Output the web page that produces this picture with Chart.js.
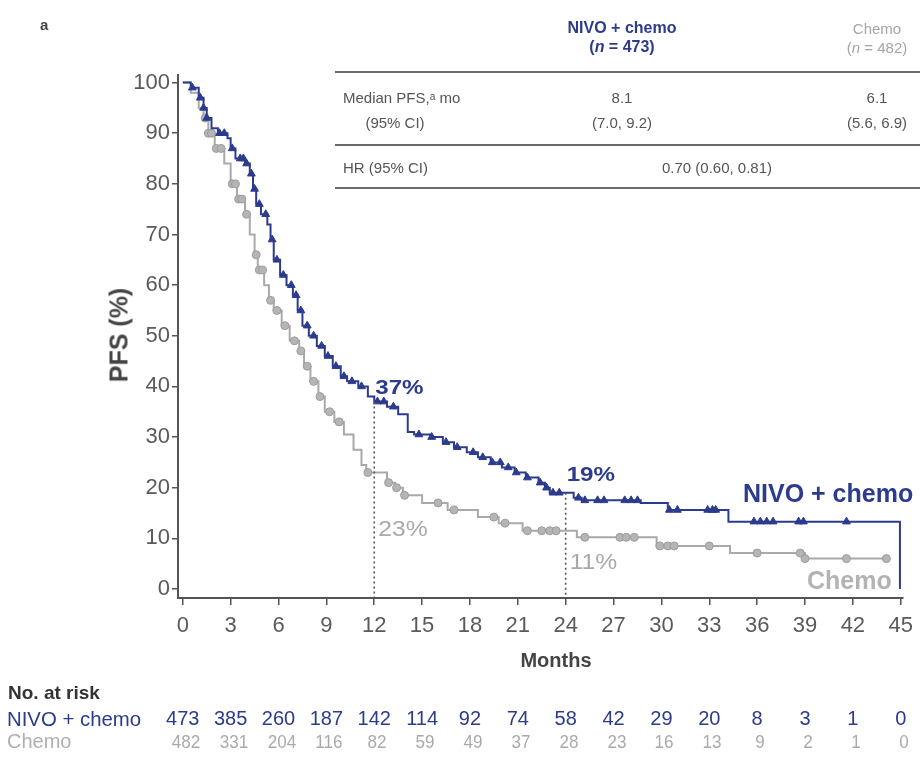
<!DOCTYPE html>
<html><head><meta charset="utf-8">
<script src="https://cdn.jsdelivr.net/npm/chart.js@4.4.1/dist/chart.umd.min.js"></script>
<style>
html,body{margin:0;padding:0;background:#fff;}
#wrap{position:relative;width:921px;height:758px;overflow:hidden;font-family:"Liberation Sans",Arial,sans-serif;}
#c{position:absolute;left:0;top:0;}
.t{position:absolute;white-space:nowrap;line-height:1;}
.hl{position:absolute;height:2px;background:#6a6a6a;left:335px;width:585px;}
</style></head><body>
<div id="wrap"><canvas id="c" width="921" height="758"></canvas></div>
<script>
// ---------- data ----------
const nivoMonths = [0,0.5,1.0,1.3,1.5,1.8,2.2,2.8,3.0,3.3,3.9,4.2,4.4,4.6,4.9,5.3,5.5,5.7,6.1,6.5,6.9,7.2,7.5,7.9,8.4,8.9,9.4,9.9,10.3,11.0,11.6,12.0,12.8,13.5,14.1,14.5,15.5,16.3,17.0,17.8,18.5,19.3,20.0,20.8,21.5,22.3,22.7,23.0,24.5,25.0,28.7,30.4,34.2,44.95];
const nivoPFS    = [100,99,97,95,93,91,90,89,87,85,84,82,79,76,74,72,69,65,62,60,58,55,52,50,48,46,44,42,41,40,38,37,36,34.5,31,30.5,30,29,28,27,26,25,24,23,22,21,20,19,18,17.5,17,15.6,13.3,0];
const chemoMonths = [0,0.5,1.0,1.3,1.6,2.0,2.6,3.0,3.4,3.9,4.2,4.5,4.7,5.1,5.4,5.7,6.2,6.7,7.3,7.6,8.0,8.5,8.9,9.5,10.1,10.7,11.2,11.5,12.8,13.3,13.8,15.0,16.6,18.5,19.8,21.3,24.7,29.7,34.3,39.0,44.3];
const chemoPFS    = [100,98,95,93,90,87,84,80,77,74,70,66,63,60,57,55,52,49,47,44,41,38,35,33,30.5,27.5,24.5,23,21,20,18.5,17,15.6,14.2,13,11.5,10.2,8.5,7.1,6.0,6.0];
const nivoCensor  = [0.6,1.1,1.3,1.5,2.3,2.6,3.1,3.6,3.8,4.0,4.3,4.5,4.8,5.2,5.6,5.9,6.3,6.8,7.1,7.4,7.8,8.2,8.7,9.1,9.6,10.1,10.6,11.2,12.2,12.6,13.2,14.8,15.6,16.5,17.2,18.2,18.8,19.4,19.9,20.4,20.9,21.6,22.4,22.8,23.2,23.6,24.8,25.2,26.0,26.4,27.7,28.1,28.5,30.5,31.0,32.9,33.2,33.4,35.8,36.2,36.6,37.0,38.6,38.9,41.6];
const chemoCensor = [1.4,1.6,1.8,2.1,2.4,3.1,3.3,3.5,3.7,4.0,4.6,4.8,5.0,5.5,5.9,6.4,7.0,7.4,7.8,8.2,8.6,9.2,9.8,11.6,12.9,13.4,13.9,16.0,17.0,19.5,20.2,21.6,22.5,23.0,23.4,25.2,27.4,27.8,28.3,29.9,30.4,30.8,33.0,36.0,38.7,39.0,41.6,44.1];
const xTicks = [0,3,6,9,12,15,18,21,24,27,30,33,36,39,42,45];
const yTicks = [0,10,20,30,40,50,60,70,80,90,100];
const landmarkMonths = [12,24];
const nivoLandmark  = ["37%","19%"];
const chemoLandmark = ["23%","11%"];
const nivoLandmarkVal  = [37,19];
const chemoLandmarkVal = [23,11];
const atRiskNivo  = [473,385,260,187,142,114,92,74,58,42,29,20,8,3,1,0];
const atRiskChemo = [482,331,204,116,82,59,49,37,28,23,16,13,9,2,1,0];
const seriesNames = ["NIVO + chemo","Chemo"];
const tableRows = [["Median PFS,\u1d43 mo","8.1","6.1"],["(95% CI)","(7.0, 9.2)","(5.6, 6.9)"],["HR (95% CI)","0.70 (0.60, 0.81)"]];
const tableHeads = [["NIVO + chemo","(<i>n</i> = 473)"],["Chemo","(<i>n</i> = 482)"]];

const BLUE = "#2c3b8d", GREY = "#a9a9a9", AXIS = "#555555";

function stepValue(months, vals, t){
  let v = vals[0];
  for (let i=0;i<months.length;i++){ if (months[i] <= t) v = vals[i]; else break; }
  return v;
}
const pts = (m, v) => m.map((x,i)=>({x:x, y:v[i]}));
const cens = (c, m, v) => c.map(t=>({x:t, y:stepValue(m,v,t)}));

function stretchText(ctx, txt, x, y, sx){
  ctx.save(); ctx.translate(x, y); ctx.scale(sx, 1); ctx.fillText(txt, 0, 0); ctx.restore();
}

const landmarkPlugin = {
  id:'landmarks',
  afterDatasetsDraw(chart){
    const {ctx, scales:{x,y}} = chart;
    ctx.save();
    ctx.strokeStyle = "#555"; ctx.lineWidth = 1.6; ctx.setLineDash([2,3]);
    landmarkMonths.forEach((m,i)=>{
      const px = x.getPixelForValue(m);
      ctx.beginPath(); ctx.moveTo(px, y.getPixelForValue(nivoLandmarkVal[i])); ctx.lineTo(px, y.bottom); ctx.stroke();
    });
    ctx.setLineDash([]);
    ctx.textBaseline = "middle"; ctx.textAlign = "left";
    landmarkMonths.forEach((m,i)=>{
      const px = x.getPixelForValue(m);
      ctx.fillStyle = BLUE; ctx.font = "bold 21px 'Liberation Sans', Arial";
      stretchText(ctx, nivoLandmark[i], px+1, y.getPixelForValue(nivoLandmarkVal[i]) - (i===0?13:18), 1.15);
      ctx.fillStyle = GREY; ctx.font = "22px 'Liberation Sans', Arial";
      stretchText(ctx, chemoLandmark[i], px+4, y.getPixelForValue(chemoLandmarkVal[i]) + (i===0?57:30), 1.12);
    });
    ctx.restore();
  }
};

const chart = new Chart(document.getElementById('c'), {
  type:'scatter',
  data:{ datasets:[
    {label:seriesNames[1], data:pts(chemoMonths,chemoPFS), showLine:true, stepped:true, borderColor:GREY, borderWidth:2, pointRadius:0, order:4},
    {label:seriesNames[1]+" censored", data:cens(chemoCensor,chemoMonths,chemoPFS), showLine:false, pointStyle:'circle', pointRadius:4, backgroundColor:"#b5b5b5", borderColor:"#9c9c9c", borderWidth:1, order:3},
    {label:seriesNames[0], data:pts(nivoMonths,nivoPFS), showLine:true, stepped:true, borderColor:BLUE, borderWidth:2, pointRadius:0, order:2},
    {label:seriesNames[0]+" censored", data:cens(nivoCensor,nivoMonths,nivoPFS), showLine:false, pointStyle:'triangle', pointRadius:4.5, backgroundColor:BLUE, borderColor:BLUE, borderWidth:1, order:1}
  ]},
  options:{
    responsive:false, animation:false, devicePixelRatio:1,
    layout:{padding:{top:75, right:14, left:0, bottom:0}},
    plugins:{legend:{display:false}, tooltip:{enabled:false}},
    scales:{
      x:{type:'linear', min:-0.3, max:45.1,
         afterBuildTicks:s=>{s.ticks = xTicks.map(v=>({value:v}));},
         afterFit:s=>{s.height = 160;},
         grid:{drawOnChartArea:false, drawTicks:true, tickLength:7, color:AXIS, lineWidth:1.5},
         border:{display:true, color:AXIS, width:2},
         ticks:{color:"#5a5a5a", font:{family:"'Liberation Sans', Arial", size:22}, padding:8, maxRotation:0, autoSkip:false}},
      y:{type:'linear', min:-1.78, max:101.5,
         afterBuildTicks:s=>{s.ticks = yTicks.map(v=>({value:v}));},
         afterFit:s=>{s.width = 178;},
         grid:{drawOnChartArea:false, drawTicks:true, tickLength:6, color:AXIS, lineWidth:1.5},
         border:{display:true, color:AXIS, width:2},
         ticks:{color:"#5a5a5a", font:{family:"'Liberation Sans', Arial", size:22}, padding:2, autoSkip:false}}
    }
  },
  plugins:[landmarkPlugin]
});

// ---------- HTML text ----------
const wrap = document.getElementById('wrap');
function addText(html, left, top, css){
  const d = document.createElement('div'); d.className='t'; d.innerHTML = html;
  d.style.left = left+'px'; d.style.top = top+'px';
  Object.assign(d.style, css||{});
  wrap.appendChild(d); return d;
}
function hline(top){ const d=document.createElement('div'); d.className='hl'; d.style.top=top+'px'; wrap.appendChild(d); }

addText("a", 40, 17, {fontWeight:'bold', fontSize:'15px', color:'#444'});
addText("PFS (%)", 119, 335, {fontWeight:'bold', fontSize:'25px', color:'#444', transform:'translate(-50%,-50%) rotate(-90deg)'});
addText("Months", 556, 660, {fontWeight:'bold', fontSize:'20px', color:'#444', transform:'translate(-50%,-50%)'});
addText(seriesNames[0], 743, 493, {fontWeight:'bold', fontSize:'25px', color:BLUE, transform:'translateY(-50%)'});
addText(seriesNames[1], 807, 580, {fontWeight:'bold', fontSize:'25px', color:'#b3b3b3', transform:'translateY(-50%)'});

// top table
const c1 = 622, c2 = 877;
addText(tableHeads[0][0], c1, 28, {fontWeight:'bold', fontSize:'16px', color:BLUE, transform:'translate(-50%,-50%)'});
addText(tableHeads[0][1], c1, 47, {fontWeight:'bold', fontSize:'16px', color:BLUE, transform:'translate(-50%,-50%)'});
addText(tableHeads[1][0], c2, 28, {fontSize:'15px', color:'#a5a5a5', transform:'translate(-50%,-50%)'});
addText(tableHeads[1][1], c2, 47, {fontSize:'15px', color:'#a5a5a5', transform:'translate(-50%,-50%)'});
hline(71); hline(144); hline(187);
addText(tableRows[0][0], 343, 97, {fontSize:'15px', color:'#555', transform:'translateY(-50%)'});
addText(tableRows[1][0], 395, 122, {fontSize:'15px', color:'#555', transform:'translate(-50%,-50%)'});
addText(tableRows[0][1], c1, 97, {fontSize:'15px', color:'#555', transform:'translate(-50%,-50%)'});
addText(tableRows[1][1], c1, 122, {fontSize:'15px', color:'#555', transform:'translate(-50%,-50%)'});
addText(tableRows[0][2], c2, 97, {fontSize:'15px', color:'#555', transform:'translate(-50%,-50%)'});
addText(tableRows[1][2], c2, 122, {fontSize:'15px', color:'#555', transform:'translate(-50%,-50%)'});
addText(tableRows[2][0], 343, 167, {fontSize:'15px', color:'#555', transform:'translateY(-50%)'});
addText(tableRows[2][1], 717, 167, {fontSize:'15px', color:'#555', transform:'translate(-50%,-50%)'});

// at-risk table, columns aligned with the x-axis ticks
const xs = chart.scales.x;
addText("No. at risk", 8, 692, {fontWeight:'bold', fontSize:'19px', color:'#333', transform:'translateY(-50%)'});
addText(seriesNames[0], 7, 718, {fontSize:'21px', color:BLUE, transform:'translateY(-50%) scaleX(0.97)', transformOrigin:'left center'});
addText(seriesNames[1], 7, 741, {fontSize:'20px', color:'#b0b0b0', transform:'translateY(-50%)'});
atRiskNivo.forEach((v,i)=>{
  addText(String(v), xs.getPixelForValue(xTicks[i]), 718, {fontSize:'20px', color:BLUE, transform:'translate(-50%,-50%)'});
});
atRiskChemo.forEach((v,i)=>{
  addText(String(v), xs.getPixelForValue(xTicks[i]) + 3, 741, {fontSize:'19px', color:'#aaa', transform:'translate(-50%,-50%) scaleX(0.9)'});
});
</script>
</body></html>
